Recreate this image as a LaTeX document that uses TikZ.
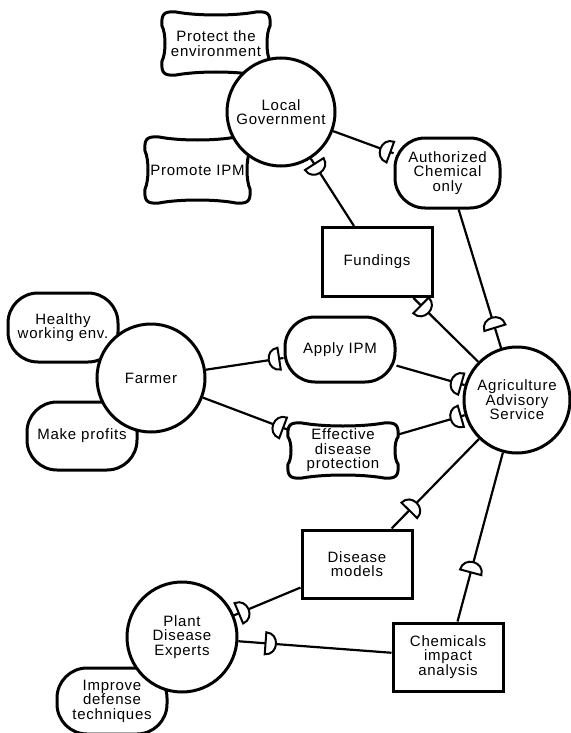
\documentclass[tikz,border=0pt]{standalone}
\usepackage{fontspec}
\setmainfont{Liberation Sans}[LetterSpace=5]
\usetikzlibrary{decorations.markings}
\tikzset{
  every node/.style={font=\fontsize{15}{14.5}\selectfont, align=center, inner sep=1pt},
  actor/.style={circle, draw, fill=white, line width=3pt, minimum size=#1},
  resource/.style={rectangle, draw, fill=white, line width=3pt, minimum width=110, minimum height=68},
  goal/.style={rectangle, rounded corners=30pt, draw, fill=white, line width=3pt},
  sgline/.style={draw, fill=white, line width=3pt},
  link/.style={line width=2.2pt},
  dep/.style={postaction={decorate,decoration={markings,mark=at position #1 with {\draw[line width=2pt,fill=white] (5,-11) -- (5,11) .. controls (-9,11) and (-9,-11) .. (5,-11) -- cycle;}}}}
}
\newcommand\softgoal[6]{%
  \begin{scope}[shift={(#2,#3)}]
  \path[sgline] (-#4+14,-#5)
   .. controls (-#4/3,-#5+4) and (#4/3,-#5+4) .. (#4-14,-#5)
   .. controls (#4-2,-#5-1) and (#4+1,-#5+2) .. (#4,-#5+14)
   .. controls (#4-4,-#5/3) and (#4-4,#5/3) .. (#4,#5-14)
   .. controls (#4+1,#5-2) and (#4-2,#5+1) .. (#4-14,#5)
   .. controls (#4/3,#5-4) and (-#4/3,#5-4) .. (-#4+14,#5)
   .. controls (-#4+2,#5+1) and (-#4-1,#5-2) .. (-#4,#5-14)
   .. controls (-#4+4,#5/3) and (-#4+4,-#5/3) .. (-#4,-#5+14)
   .. controls (-#4-1,-#5+2) and (-#4+2,-#5-1) .. (-#4+14,-#5) -- cycle;
  \end{scope}
  \node[minimum width=2*#4, minimum height=2*#5] (#1) at (#2,#3) {#6};
}
\begin{document}
\begin{tikzpicture}[x=1pt,y=-1pt]
\useasboundingbox[fill=white] (0,0) rectangle (570,733);
% goals
\node[goal, minimum width=105, minimum height=70] (AC) at (447.5,173) {Authorized\\Chemical\\only};
\node[goal, minimum width=110, minimum height=69] (HWE) at (63,327.5) {Healthy\\working env.};
\node[goal, minimum width=110, minimum height=68] (MP) at (82,436) {Make profits};
\node[goal, minimum width=110, minimum height=65] (AIPM) at (340,349.5) {Apply IPM};
\node[goal, minimum width=110, minimum height=66] (IDT) at (112,701) {Improve\\defense\\techniques};
% softgoals
\softgoal{PE}{216}{43.5}{54}{31.5}{Protect the\\environment}
\softgoal{PIPM}{197.5}{170}{52.5}{33}{Promote IPM}
\softgoal{EDP}{343}{450.5}{55}{27.5}{Effective\\disease\\protection}
% actors
\node[actor=108] (LG) at (281,112) {Local\\Government};
\node[actor=108] (F) at (151,378) {Farmer};
\node[actor=106] (AAS) at (517,400) {Agriculture\\Advisory\\Service};
\node[actor=110] (PDE) at (182,637) {Plant\\Disease\\Experts};
% resources
\node[resource, minimum height=69] (FU) at (377,262) {Fundings};
\node[resource] (DM) at (357,564) {Disease\\models};
\node[resource] (CIA) at (448,657) {Chemicals\\impact\\analysis};
% dependency links
\draw[link, dep=0.87] (LG) -- (AC);
\draw[link, dep=0.82] (AC) -- (AAS);
\draw[link, dep=0.86] (FU) -- (LG);
\draw[link, dep=0.83] (AAS) -- (FU);
\draw[link, dep=0.88] (F) -- (AIPM);
\draw[link, dep=0.88] (AIPM) -- (AAS);
\draw[link, dep=0.89] (F) -- (EDP);
\draw[link, dep=0.87] (EDP) -- (AAS);
\draw[link, dep=0.76] (AAS) -- (DM);
\draw[link, dep=0.86] (DM) -- (PDE);
\draw[link, dep=0.68] (AAS) -- (CIA);
\draw[link, dep=0.79] (CIA) -- (PDE);
\end{tikzpicture}
\end{document}
